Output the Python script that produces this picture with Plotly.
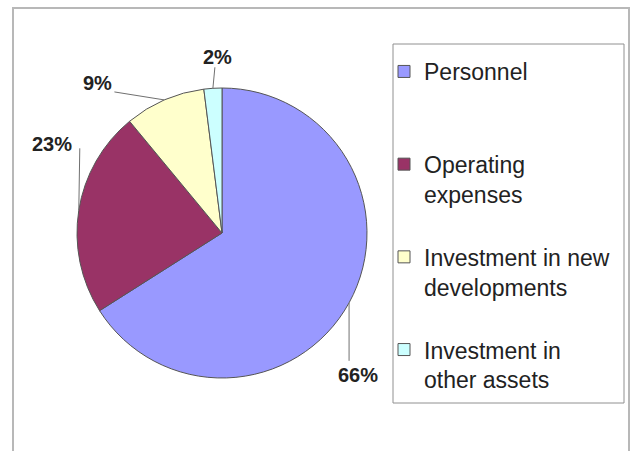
import math
import plotly.graph_objects as go

# ---- data ----
categories = ["Personnel", "Operating expenses", "Investment in new developments", "Investment in other assets"]
legend_labels = ["Personnel<br> <br> ", "Operating<br>expenses<br> ", "Investment in new<br>developments<br> ", "Investment in<br>other assets<br> "]
values = [66, 23, 9, 2]
colors = ["#9999FF", "#993366", "#FFFFCC", "#CCFFFF"]

# ---- layout geometry (pixels) ----
W, H = 634, 451
CX, CY, R = 222, 233, 145

def px(x):
    return x / W

def py(y):
    return 1 - y / H

# label leader styling: (elbow dx, elbow dy relative to edge point), (label dx, dy relative to elbow)
label_style = [
    {"elbow": (0, 58), "label": (9, 14)},      # 66%
    {"elbow": (1, -62), "label": (-28, -4)},    # 23%
    {"elbow": (-50, -8), "label": (-17, -9)},   # 9%
    {"elbow": (2, -21), "label": (3, -10)},     # 2%
]

fig = go.Figure()
fig.add_trace(go.Pie(
    labels=legend_labels,
    values=values,
    sort=False,
    direction="clockwise",
    rotation=0,
    textinfo="none",
    hoverinfo="skip",
    marker=dict(colors=colors, line=dict(color="#555555", width=1)),
    domain=dict(x=[px(CX - R), px(CX + R)], y=[py(CY + R), py(CY - R)]),
))

total = sum(values)
cum = 0.0
shapes = []
annotations = []
for v, st in zip(values, label_style):
    mid = (cum + v / 2) / total * 2 * math.pi
    cum += v
    ex = CX + R * math.sin(mid)
    ey = CY - R * math.cos(mid)
    bx = ex + st["elbow"][0]
    by = ey + st["elbow"][1]
    lx = bx + st["label"][0]
    ly = by + st["label"][1]
    shapes.append(dict(type="path", xref="paper", yref="paper",
                       path=f"M {px(ex)},{py(ey)} L {px(bx)},{py(by)}",
                       line=dict(color="#707070", width=1)))
    annotations.append(dict(x=px(lx), y=py(ly), xref="paper", yref="paper",
                            text=f"<b>{round(v / total * 100)}%</b>", showarrow=False,
                            font=dict(family="Liberation Sans, Arial", size=20, color="#222222"),
                            xanchor="center", yanchor="middle"))

# outer chart border
shapes.append(dict(type="rect", xref="paper", yref="paper",
                   x0=px(13), y0=py(8), x1=px(629), y1=-0.1,
                   line=dict(color="#B8B8B8", width=2), fillcolor="rgba(0,0,0,0)"))
# legend box border
shapes.append(dict(type="rect", xref="paper", yref="paper",
                   x0=px(393), y0=py(44), x1=px(624), y1=py(403),
                   line=dict(color="#909090", width=1), fillcolor="white", layer="below"))

fig.update_layout(
    width=W, height=H,
    margin=dict(l=0, r=0, t=0, b=0),
    paper_bgcolor="white",
    plot_bgcolor="white",
    shapes=shapes,
    annotations=annotations,
    showlegend=True,
    legend=dict(
        x=px(384), y=py(50), xanchor="left", yanchor="top",
        borderwidth=0, bgcolor="rgba(0,0,0,0)",
        font=dict(family="Liberation Sans, Arial", size=23, color="#222222"),
        valign="top", traceorder="normal",
    ),
)

fig.write_html("out.html", config={"displayModeBar": False},
               post_script="document.body.style.margin='0px';document.body.style.overflow='hidden';")
